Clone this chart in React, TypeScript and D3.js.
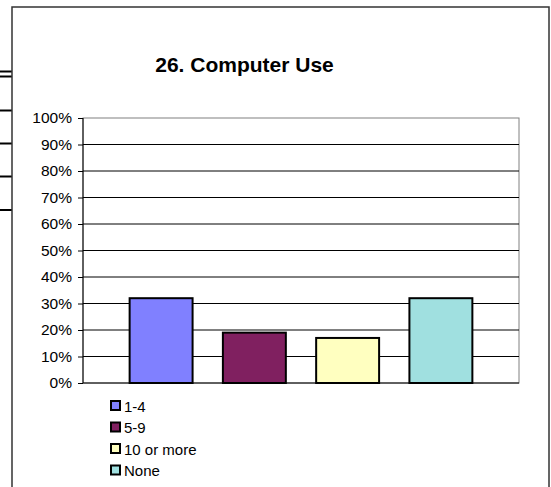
import React from 'react';
import * as d3 from 'd3';

// Data

const categories: string[] = ['1-4', '5-9', '10 or more', 'None'];
const values: number[] = [0.32, 0.19, 0.17, 0.32];
const colors: string[] = ['#8080ff', '#802060', '#ffffc0', '#a0e0e0'];
const yTicks: number[] = [0, 0.1, 0.2, 0.3, 0.4, 0.5, 0.6, 0.7, 0.8, 0.9, 1];

const width = 551;
const height = 487;
const plot = { left: 83, top: 118, right: 519, bottom: 383 };
const font = 'Liberation Sans, Arial, sans-serif';

function App() {
    const ref = React.useRef<SVGSVGElement>(null);

    React.useEffect(() => {
        const svg = d3.select(ref.current);
        svg.selectAll('*').remove();

        const x = d3.scaleBand<string>()
            .domain(categories)
            .range([plot.left, plot.right])
            .paddingInner(0.325)
            .paddingOuter(0.5);
        const y = d3.scaleLinear().domain([0, 1]).range([plot.bottom, plot.top]);

        // stray lines at the left edge (from a neighbouring sheet area)
        const stubs = [71.5, 76.5, 110.5, 143.5, 176.5, 210];
        svg.append('g')
            .selectAll('line')
            .data(stubs)
            .join('line')
            .attr('x1', 0).attr('x2', 12)
            .attr('y1', (d) => d).attr('y2', (d) => d)
            .attr('stroke', '#000').attr('stroke-width', 2);

        // chart frame
        svg.append('rect')
            .attr('x', 12).attr('y', 7)
            .attr('width', 537).attr('height', 500)
            .attr('fill', '#fff')
            .attr('stroke', '#333').attr('stroke-width', 1.5);

        svg.append('text')
            .attr('x', 244.5).attr('y', 72)
            .attr('text-anchor', 'middle')
            .attr('font-family', font)
            .attr('font-weight', 'bold')
            .attr('font-size', 21)
            .text('26. Computer Use');

        // plot border
        svg.append('rect')
            .attr('x', plot.left).attr('y', plot.top)
            .attr('width', plot.right - plot.left).attr('height', plot.bottom - plot.top)
            .attr('fill', 'none')
            .attr('stroke', '#808080').attr('stroke-width', 1);

        // gridlines
        svg.append('g')
            .selectAll('line')
            .data(yTicks.filter((t) => t > 0 && t < 1))
            .join('line')
            .attr('x1', plot.left).attr('x2', plot.right)
            .attr('y1', (d) => y(d)).attr('y2', (d) => y(d))
            .attr('stroke', '#000').attr('stroke-width', 1);

        // y axis
        const yAxis = svg.append('g')
            .attr('transform', `translate(${plot.left},0)`)
            .call(d3.axisLeft(y).tickValues(yTicks).tickFormat(d3.format('.0%')).tickSize(5).tickPadding(6));
        yAxis.selectAll('line,path').attr('stroke', '#000');
        yAxis.select('.domain').attr('d', `M0,${plot.top}V${plot.bottom}`);
        yAxis.selectAll('text')
            .attr('font-family', font)
            .attr('font-size', 15.5)
            .attr('fill', '#000');

        // bottom axis line
        svg.append('line')
            .attr('x1', plot.left).attr('x2', plot.right)
            .attr('y1', plot.bottom).attr('y2', plot.bottom)
            .attr('stroke', '#000');

        // bars
        svg.append('g')
            .selectAll('rect')
            .data(categories)
            .join('rect')
            .attr('x', (d) => x(d)!)
            .attr('y', (d, i) => y(values[i]))
            .attr('width', x.bandwidth())
            .attr('height', (d, i) => y(0) - y(values[i]))
            .attr('fill', (d, i) => colors[i])
            .attr('stroke', '#000').attr('stroke-width', 2);

        // legend
        const legend = svg.append('g')
            .selectAll('g')
            .data(categories)
            .join('g')
            .attr('transform', (d, i) => `translate(111,${401 + i * 21.5})`);
        legend.append('rect')
            .attr('width', 9).attr('height', 9)
            .attr('fill', (d, i) => colors[i])
            .attr('stroke', '#000').attr('stroke-width', 2);
        legend.append('text')
            .attr('x', 13).attr('y', 10.5)
            .attr('font-family', font)
            .attr('font-size', 15)
            .text((d) => d);
    }, []);

    return (
        <svg ref={ref} width={width} height={height}
            style={{ position: 'absolute', left: 0, top: 0, background: '#fff' }} />
    );
}

export default App;
